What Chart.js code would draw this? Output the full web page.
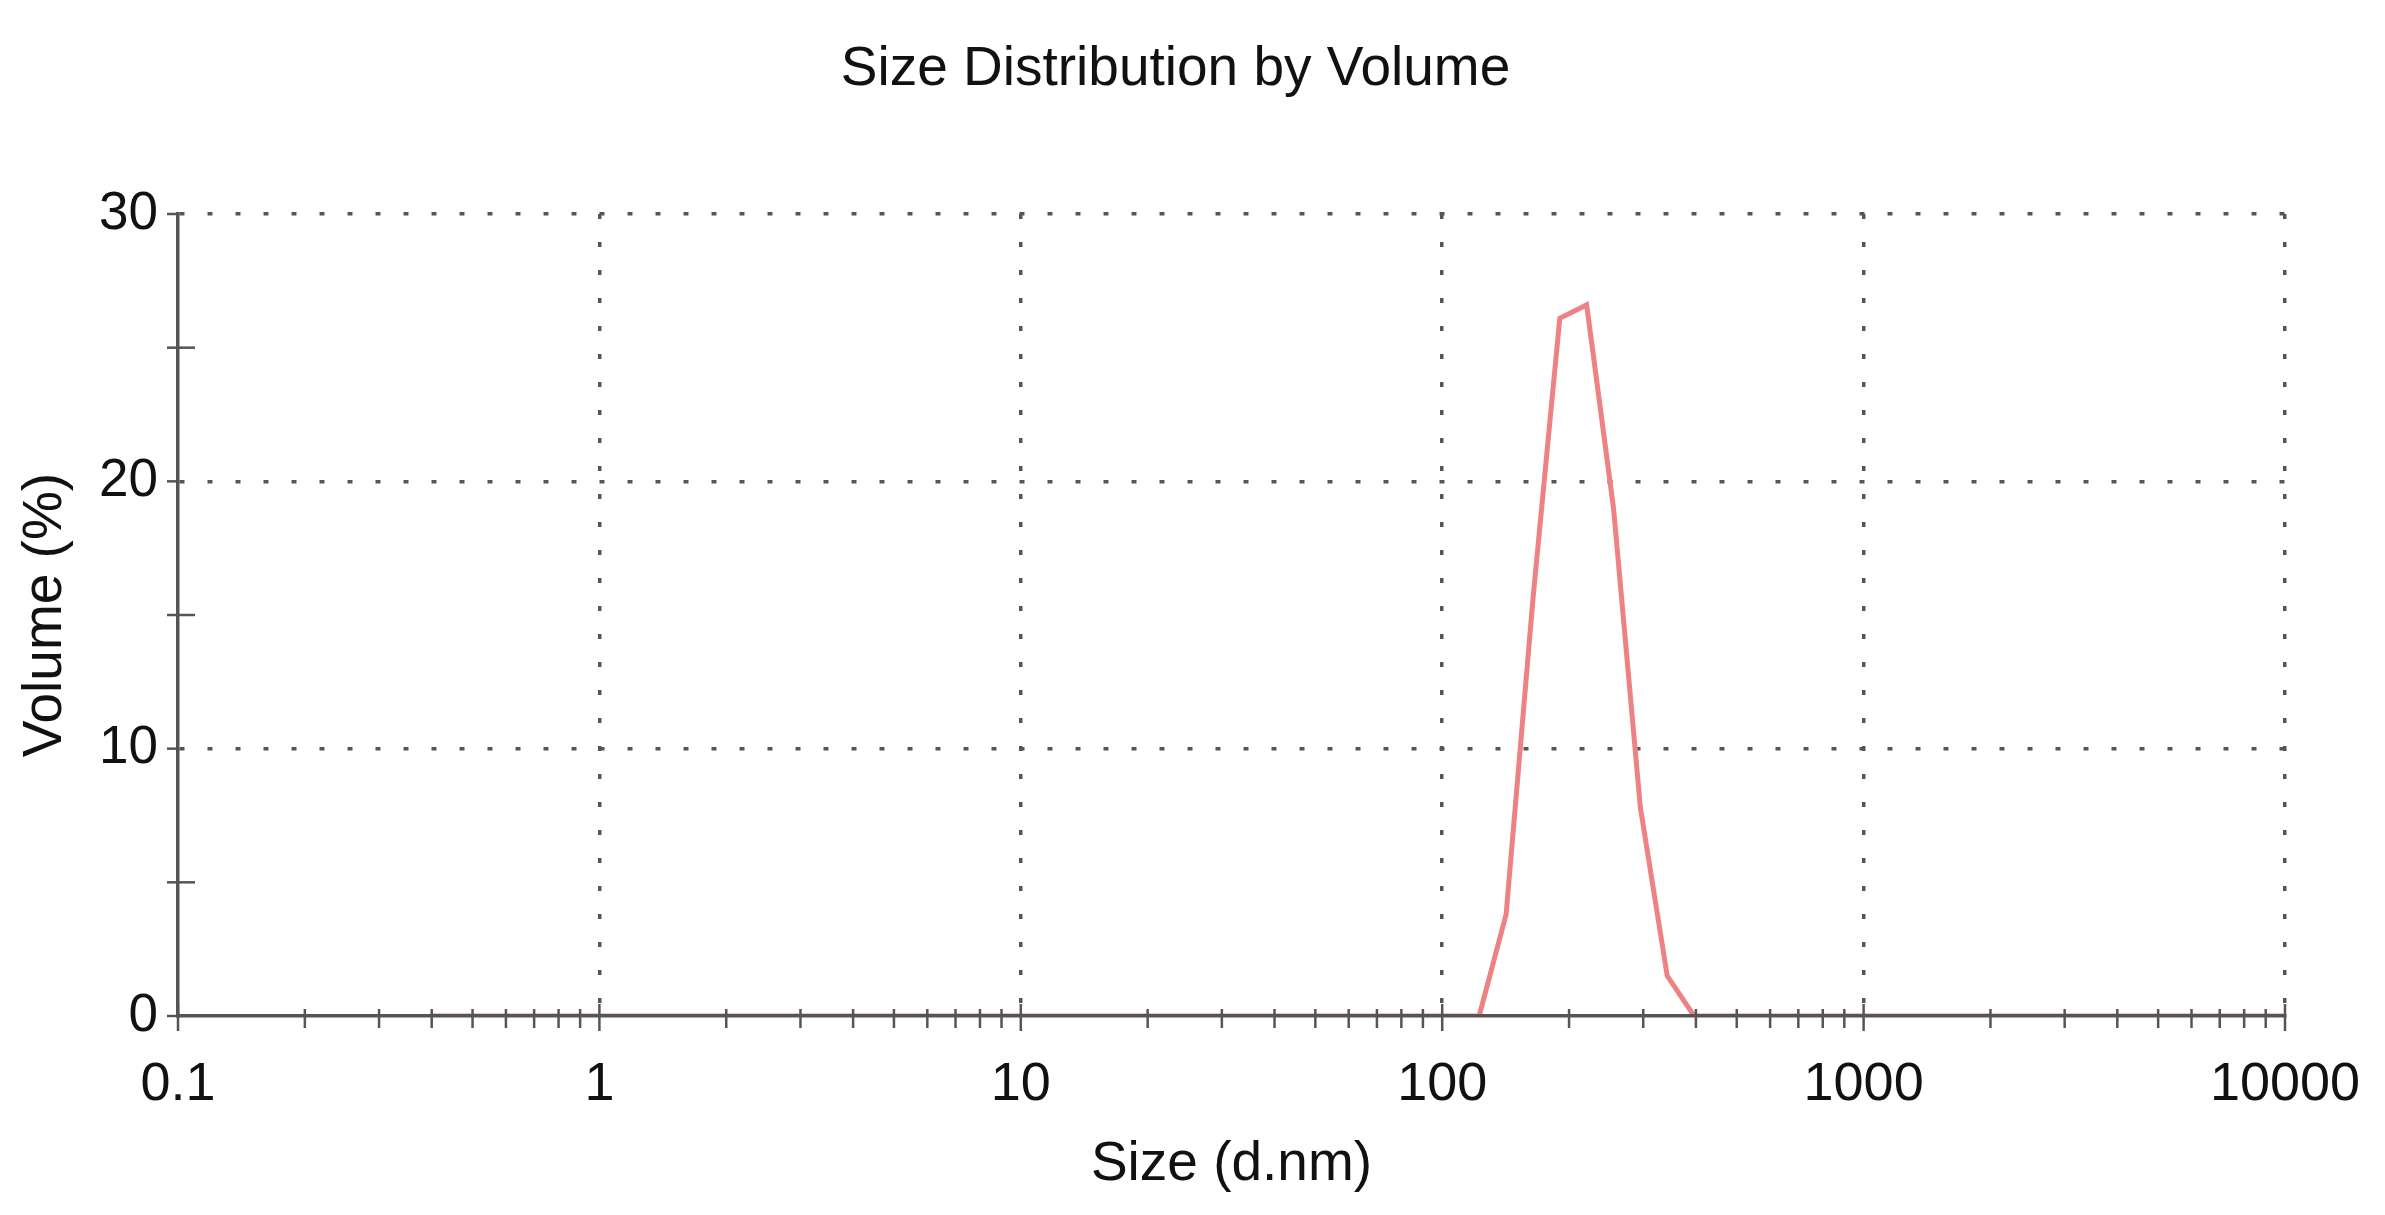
<!DOCTYPE html>
<html>
<head>
<meta charset="utf-8">
<title>Size Distribution by Volume</title>
<script src="https://cdn.jsdelivr.net/npm/chart.js"></script>
<style>
    body { margin: 0; background: #fff; }
    #chart { display: block; }
</style>
</head>
<body>
<canvas id="chart" width="2385" height="1215"></canvas>
<script>
// size classes (d.nm) and volume (%)
const sizes = [0.4, 0.4632, 0.5365, 0.6213, 0.7195, 0.8332, 0.9649, 1.117, 1.294, 1.499,
    1.736, 2.01, 2.328, 2.696, 3.122, 3.615, 4.187, 4.849, 5.615, 6.503,
    7.531, 8.721, 10.1, 11.7, 13.54, 15.69, 18.17, 21.04, 24.36, 28.21,
    32.67, 37.84, 43.82, 50.75, 58.77, 68.06, 78.82, 91.28, 105.7, 122.4,
    141.8, 164.2, 190.1, 220.2, 255.0, 295.3, 342.0, 396.1, 458.7, 531.2,
    615.1, 712.4, 825.0, 955.4, 1106, 1281, 1484, 1718, 1990, 2305,
    2669, 3091, 3580, 4145, 4801, 5560, 6439, 7456, 8635, 10000];
const volume = [0, 0, 0, 0, 0, 0, 0, 0, 0, 0,
    0, 0, 0, 0, 0, 0, 0, 0, 0, 0,
    0, 0, 0, 0, 0, 0, 0, 0, 0, 0,
    0, 0, 0, 0, 0, 0, 0, 0, 0, 0,
    3.8, 15.6, 26.1, 26.6, 19.0, 7.8, 1.5, 0, 0, 0,
    0, 0, 0, 0, 0, 0, 0, 0, 0, 0,
    0, 0, 0, 0, 0, 0, 0, 0, 0, 0];

const xMajorTicks = [0.1, 1, 10, 100, 1000, 10000];
const xTickLabels = ['0.1', '1', '10', '100', '1000', '10000'];
const xMinorSteps = [2, 3, 4, 5, 6, 7, 8, 9];
const yTicks = [0, 5, 10, 15, 20, 25, 30];
const yTickLabels = ['0', '', '10', '', '20', '', '30'];

const FONT = 'Arial, "Liberation Sans", sans-serif';
const AXIS = '#555';

// all x tick positions: decades plus 2..9 in between
let xTickValues = [];
xMajorTicks.forEach((d, i) => {
    xTickValues.push(d);
    if (i < xMajorTicks.length - 1) xMinorSteps.forEach(m => xTickValues.push(+(d * m).toPrecision(3)));
});

// short tick marks that cross the axis lines
const tickMarks = {
    id: 'tickMarks',
    afterDraw(chart) {
        const { ctx, scales: { x, y } } = chart;
        ctx.save();
        ctx.strokeStyle = AXIS;
        ctx.lineWidth = 2.5;
        x.ticks.forEach(t => {
            const px = x.getPixelForValue(t.value);
            const major = xMajorTicks.includes(t.value);
            ctx.beginPath();
            ctx.moveTo(px, x.top - (major ? 12 : 7));
            ctx.lineTo(px, x.top + (major ? 15 : 12));
            ctx.stroke();
        });
        y.ticks.forEach(t => {
            const py = y.getPixelForValue(t.value);
            const major = t.value % 10 === 0;
            ctx.beginPath();
            ctx.moveTo(y.right - 11, py);
            ctx.lineTo(y.right + (major ? 0 : 17), py);
            ctx.stroke();
        });
        ctx.restore();
    }
};

new Chart(document.getElementById('chart'), {
    type: 'line',
    data: {
        datasets: [{
            data: sizes.map((s, i) => ({ x: s, y: volume[i] })),
            borderColor: '#ee8282',
            borderWidth: 5,
            pointRadius: 0,
            tension: 0,
            fill: false
        }]
    },
    options: {
        responsive: false,
        animation: false,
        layout: { padding: { left: 66, right: 100, top: 0, bottom: 0 } },
        plugins: {
            legend: { display: false },
            tooltip: { enabled: false },
            title: {
                display: true,
                text: 'Size Distribution by Volume',
                color: '#111',
                font: { family: FONT, size: 55, weight: 'normal' },
                padding: { top: 37, bottom: 111 }
            }
        },
        scales: {
            x: {
                type: 'logarithmic',
                min: 0.1,
                max: 10000,
                afterBuildTicks: scale => {
                    scale.ticks = xTickValues.map(v => ({ value: v }));
                },
                afterFit: scale => {
                    scale.height = 199;
                    scale.paddingLeft = 0;
                    scale.paddingRight = 0;
                },
                ticks: {
                    autoSkip: false,
                    maxRotation: 0,
                    padding: 37,
                    color: '#111',
                    font: { family: FONT, size: 54 },
                    callback: function (value) {
                        const i = xMajorTicks.indexOf(value);
                        return i >= 0 ? xTickLabels[i] : '';
                    }
                },
                grid: {
                    drawTicks: false,
                    lineWidth: 3.5,
                    color: c => (c.tick && c.tick.value > 0.1 && xMajorTicks.includes(c.tick.value)) ? AXIS : 'rgba(0,0,0,0)'
                },
                border: { display: true, color: AXIS, width: 3.5, dash: [5, 23], z: 1 },
                title: {
                    display: true,
                    text: 'Size (d.nm)',
                    color: '#111',
                    font: { family: FONT, size: 55 },
                    padding: { top: 0, bottom: 17 }
                }
            },
            y: {
                min: 0,
                max: 30,
                afterBuildTicks: scale => {
                    scale.ticks = yTicks.map(v => ({ value: v }));
                },
                afterFit: scale => { scale.width = 112; },
                ticks: {
                    padding: 20,
                    color: '#111',
                    font: { family: FONT, size: 53 },
                    callback: function (value) {
                        return yTickLabels[yTicks.indexOf(value)];
                    }
                },
                grid: {
                    drawTicks: false,
                    lineWidth: 3.5,
                    color: c => (c.tick && c.tick.value > 0 && c.tick.value % 10 === 0) ? AXIS : 'rgba(0,0,0,0)'
                },
                border: { display: true, color: AXIS, width: 3.5, dash: [5, 23] },
                title: {
                    display: true,
                    text: 'Volume (%)',
                    color: '#111',
                    font: { family: FONT, size: 55 },
                    padding: { top: -53, bottom: 0 }
                }
            }
        }
    },
    plugins: [tickMarks]
});
</script>
</body>
</html>
